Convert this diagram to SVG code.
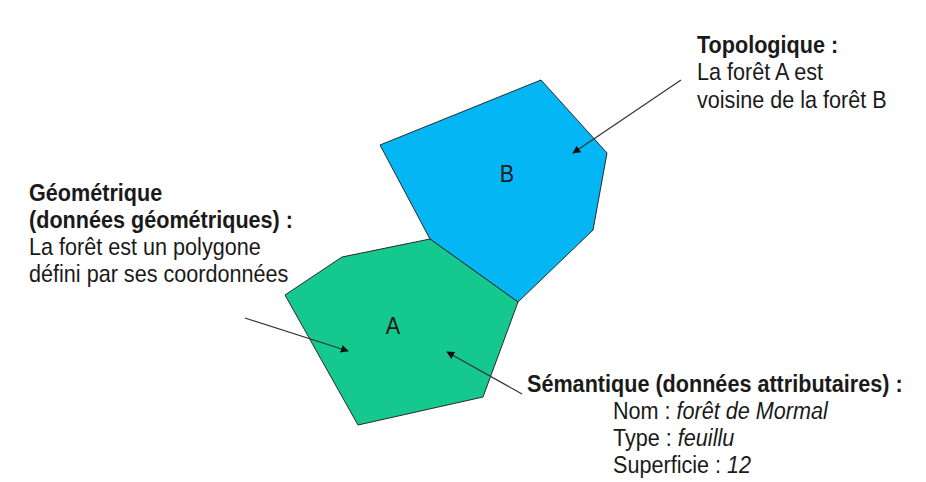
<svg xmlns="http://www.w3.org/2000/svg" width="926" height="482" viewBox="0 0 926 482">
  <style>
    text { font-family: "Liberation Sans", Arial, sans-serif; font-size: 24px; fill: #1a1a1a; }
    .b { font-weight: bold; }
    .i { font-style: italic; }
    .poly { stroke: #2a2a2a; stroke-width: 1; stroke-linejoin: miter; }
    .lbl { font-size: 24px; text-anchor: middle; }
    .arrow { stroke: #333; stroke-width: 1.2; fill: none; marker-end: url(#head); }
  </style>
  <defs>
    <marker id="head" viewBox="0 0 10 10" refX="9" refY="5" markerWidth="8" markerHeight="8" markerUnits="userSpaceOnUse" orient="auto">
      <path d="M0,0 L10,5 L0,10 z" fill="#111"/>
    </marker>
  </defs>
  <rect width="926" height="482" fill="#fff"/>

  <!-- forest B -->
  <g id="forest-b">
    <polygon class="poly" fill="#04b6f4" points="380,145 541,80 607,153 593,230 518,302 430,239"/>
    <text class="lbl" transform="translate(507,182) scale(0.9,1)">B</text>
  </g>

  <!-- forest A -->
  <g id="forest-a">
    <polygon class="poly" fill="#14c88e" points="430,239 342,257 285,295 358,425 483,397 518,302"/>
    <text class="lbl" transform="translate(393,334) scale(0.9,1)">A</text>
  </g>

  <!-- annotation: topology -->
  <g id="label-topologique">
    <text class="b" transform="translate(697,53) scale(0.9,1)">Topologique :</text>
    <text transform="translate(697,80) scale(0.9,1)">La forêt A est</text>
    <text transform="translate(697,108) scale(0.9,1)">voisine de la forêt B</text>
  </g>

  <!-- annotation: geometry -->
  <g id="label-geometrique">
    <text class="b" transform="translate(29,201) scale(0.9,1)">Géométrique</text>
    <text class="b" transform="translate(29,228) scale(0.9,1)">(données géométriques) :</text>
    <text transform="translate(29,255) scale(0.9,1)">La forêt est un polygone</text>
    <text transform="translate(29,282) scale(0.9,1)">défini par ses coordonnées</text>
  </g>

  <!-- annotation: semantics -->
  <g id="label-semantique">
    <text class="b" transform="translate(527,392) scale(0.9,1)">Sémantique (données attributaires) :</text>
    <text transform="translate(613,419) scale(0.9,1)">Nom : <tspan class="i">forêt de Mormal</tspan></text>
    <text transform="translate(613,446) scale(0.9,1)">Type : <tspan class="i">feuillu</tspan></text>
    <text transform="translate(613,473) scale(0.9,1)">Superficie : <tspan class="i">12</tspan></text>
  </g>

  <!-- connectors -->
  <g id="connectors">
    <line class="arrow" x1="681" y1="80" x2="573" y2="153"/>
    <line class="arrow" x1="245" y1="318" x2="348" y2="351"/>
    <line class="arrow" x1="522" y1="394" x2="447" y2="352"/>
  </g>
</svg>
